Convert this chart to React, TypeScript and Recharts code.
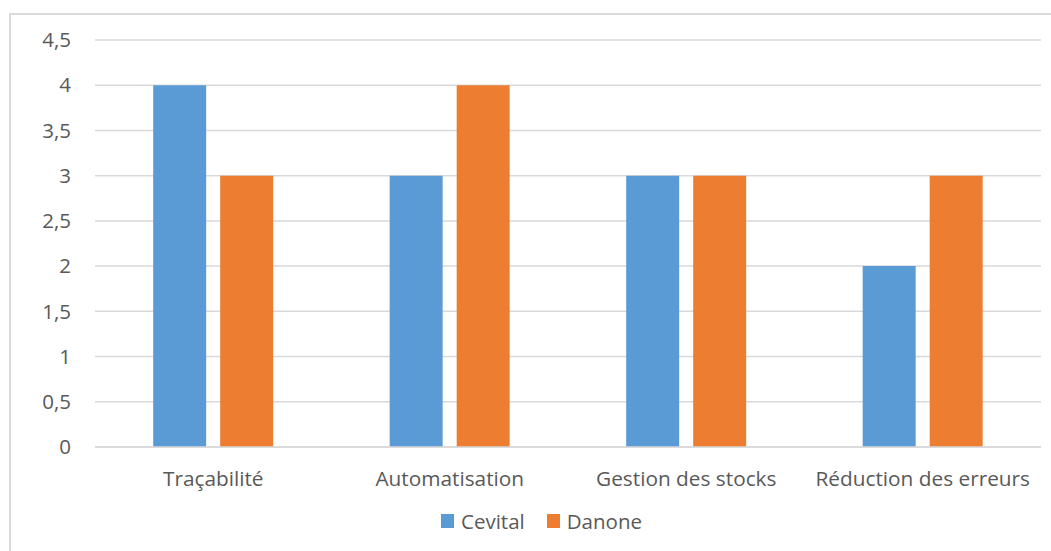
import React from 'react';
import { BarChart, Bar, XAxis, YAxis, CartesianGrid, Legend } from 'recharts';

const categories = ['Traçabilité', 'Automatisation', 'Gestion des stocks', 'Réduction des erreurs'];
const cevital = [4, 3, 3, 2];
const danone = [3, 4, 3, 3];
const yTicks = [0, 0.5, 1, 1.5, 2, 2.5, 3, 3.5, 4, 4.5];

const seriesColors = { Cevital: '#5B9BD5', Danone: '#ED7D31' };

const data = categories.map((name, i) => ({ name, Cevital: cevital[i], Danone: danone[i] }));

const FONT = '"Open Sans", sans-serif';
const TEXT = '#595959';

const renderLegend = (props: any) => {
  const { payload } = props;
  return (
    <div style={{ display: 'flex', alignItems: 'center', height: 22, fontFamily: FONT, fontSize: 20.5, color: TEXT }}>
      {payload.map((p: any, i: number) => (
        <div key={p.value} style={{ display: 'flex', alignItems: 'center', marginRight: i === 0 ? 22 : 0 }}>
          <span style={{ display: 'inline-block', width: 13, height: 14, background: p.color, marginRight: 7 }} />
          <span style={{ lineHeight: '22px' }}>{p.value}</span>
        </div>
      ))}
    </div>
  );
};

const App = () => {
  return (
    <div style={{ position: 'absolute', left: 0, top: 0, width: 1051, height: 551, background: '#fff', overflow: 'hidden' }}>
      <div style={{ position: 'absolute', left: 9, top: 13, width: 1100, height: 600, borderTop: '2px solid #d9d9d9', borderLeft: '2px solid #d9d9d9' }} />
      <div style={{ position: 'absolute', left: 0, top: 0 }}>
        <BarChart
          width={1051}
          height={551}
          data={data}
          margin={{ top: 40, right: 10, bottom: 52, left: 0 }}
          barCategoryGap="24.6%"
          barGap={14}
        >
          <CartesianGrid vertical={false} stroke="#d9d9d9" strokeWidth={1.5} />
          <XAxis
            dataKey="name"
            height={30}
            tickLine={false}
            axisLine={{ stroke: '#d9d9d9', strokeWidth: 1.5 }}
            tickMargin={18}
            interval={0}
            tick={{ fill: TEXT, fontSize: 20.8, fontFamily: FONT }}
          />
          <YAxis
            width={95}
            domain={[0, 4.5]}
            ticks={yTicks}
            interval={0}
            tickLine={false}
            axisLine={false}
            tickMargin={18}
            tickFormatter={(v: number) => String(v).replace('.', ',')}
            tick={{ fill: TEXT, fontSize: 20.5, fontFamily: FONT }}
          />
          <Legend
            content={renderLegend}
            wrapperStyle={{ top: 510, left: 441, width: 320, height: 22 }}
          />
          <Bar dataKey="Cevital" fill={seriesColors.Cevital} isAnimationActive={false} />
          <Bar dataKey="Danone" fill={seriesColors.Danone} isAnimationActive={false} />
        </BarChart>
      </div>
    </div>
  );
};

export default App;
